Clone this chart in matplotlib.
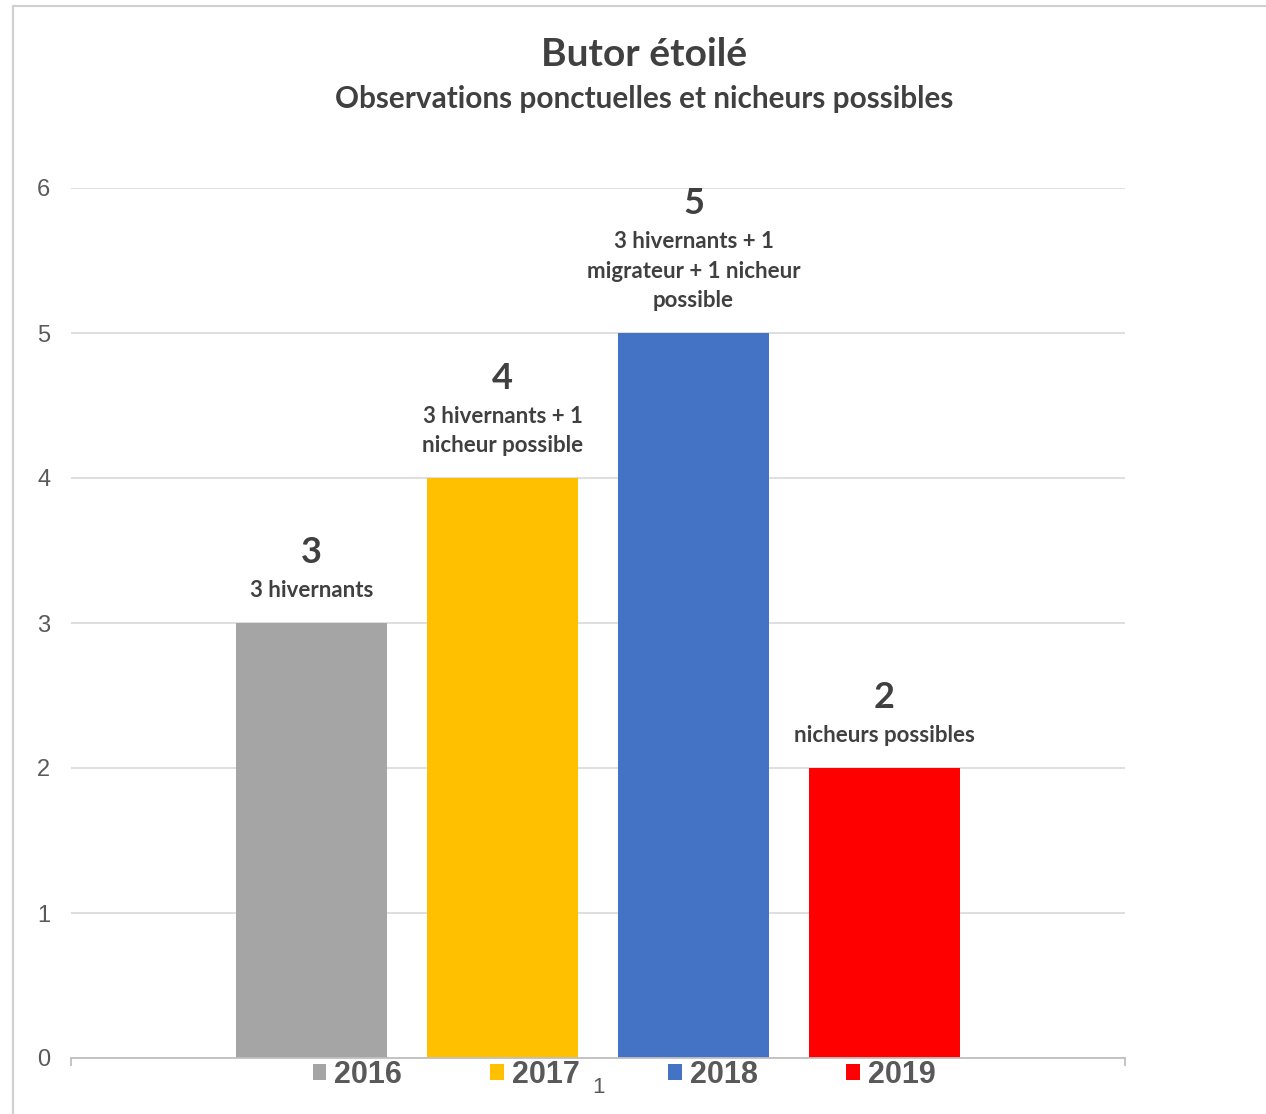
import matplotlib
matplotlib.use("Agg")
import matplotlib.pyplot as plt
from matplotlib.lines import Line2D
import numpy as np

# ---- data ----
years = ["2016", "2017", "2018", "2019"]
counts = [3, 4, 5, 2]
details = ["3 hivernants",
           "3 hivernants + 1\nnicheur possible",
           "3 hivernants + 1\nmigrateur + 1 nicheur\npossible",
           "nicheurs possibles"]
colors = ["#A5A5A5", "#FFC000", "#4472C4", "#FF0000"]
category = ["1"]
title = "Butor étoilé"
subtitle = "Observations ponctuelles et nicheurs possibles"
yticks = [0, 1, 2, 3, 4, 5, 6]

W, H = 1266, 1114
fig = plt.figure(figsize=(W / 100, H / 100), dpi=100)
fig.patch.set_facecolor("white")

# chart border (top and left only visible)
fig.add_artist(Line2D([13 / W, 1], [1 - 6 / H, 1 - 6 / H], color="#d0d0d0", lw=1.5))
fig.add_artist(Line2D([13 / W, 13 / W], [0, 1 - 6 / H], color="#d0d0d0", lw=1.5))

ax = fig.add_axes([71 / W, 1 - 1058 / H, (1125 - 71) / W, (1058 - 188) / H])

n = len(years)
bar_w = 151 / 1054
pitch = 191 / 1054
offsets = (np.arange(n) - (n - 1) / 2) * pitch
bars = []
for i in range(n):
    b = ax.bar(offsets[i], counts[i], width=bar_w, color=colors[i], label=years[i], zorder=3)
    bars.append(b)

ax.set_xlim(-0.5, 0.5)
ax.set_ylim(0, 6)
ax.set_yticks(yticks)
ax.yaxis.grid(True, color="#d9d9d9", lw=1.2, zorder=0)
ax.tick_params(axis="y", length=0, pad=15, labelsize=17, labelcolor="#595959")
for lab in ax.get_yticklabels():
    lab.set_family(["Liberation Sans", "DejaVu Sans"])

for s in ["top", "right", "left"]:
    ax.spines[s].set_visible(False)
ax.spines["bottom"].set_color("#bfbfbf")
ax.spines["bottom"].set_linewidth(1.3)
ax.spines["bottom"].set_zorder(4)

ax.set_xticks([-0.5, 0.5])
ax.set_xticklabels(["", ""])
ax.tick_params(axis="x", which="major", length=6, color="#bfbfbf", width=1.3)
ax.set_xticks([0], minor=True)
ax.set_xticklabels(category, minor=True)
ax.tick_params(axis="x", which="minor", length=0, pad=14, labelsize=16, labelcolor="#595959")
for lab in ax.get_xticklabels(minor=True):
    lab.set_family(["Liberation Sans Narrow", "Liberation Sans", "DejaVu Sans"])

# value labels
txtcol = "#404040"
for i in range(n):
    sub = ax.annotate(details[i], xy=(offsets[i], counts[i]), xytext=(0, 16),
                      textcoords="offset points", ha="center", va="bottom",
                      fontsize=16, fontweight="bold", color=txtcol,
                      family=["Lato", "DejaVu Sans"], linespacing=1.48, zorder=5)
    ax.annotate(str(counts[i]), xy=(0.5, 1), xycoords=sub, xytext=(0, 8),
                textcoords="offset points", ha="center", va="bottom",
                fontsize=26, fontweight="bold", color=txtcol,
                family=["Lato", "DejaVu Sans"], zorder=5)

# titles
fig.text(644 / W, 1 - 55 / H, title, ha="center", va="center", fontsize=28,
         fontweight="bold", color=txtcol, family=["Lato", "DejaVu Sans"])
fig.text(644 / W, 1 - 99 / H, subtitle, ha="center", va="center", fontsize=21.4,
         fontweight="bold", color=txtcol, family=["Lato", "DejaVu Sans"])

# legend
leg = fig.legend(handles=[b.patches[0] for b in bars], labels=years, ncol=4,
                 loc="center", bbox_to_anchor=(624 / W, 1 - 1075 / H),
                 frameon=False, handlelength=0.45, handleheight=0.45,
                 handletextpad=0.25, columnspacing=2.9,
                 prop={"family": ["Liberation Sans Narrow", "Liberation Sans"],
                       "weight": "bold", "size": 22})
for t in leg.get_texts():
    t.set_color("#595959")

fig.savefig("out.png", dpi=100, facecolor="white")
